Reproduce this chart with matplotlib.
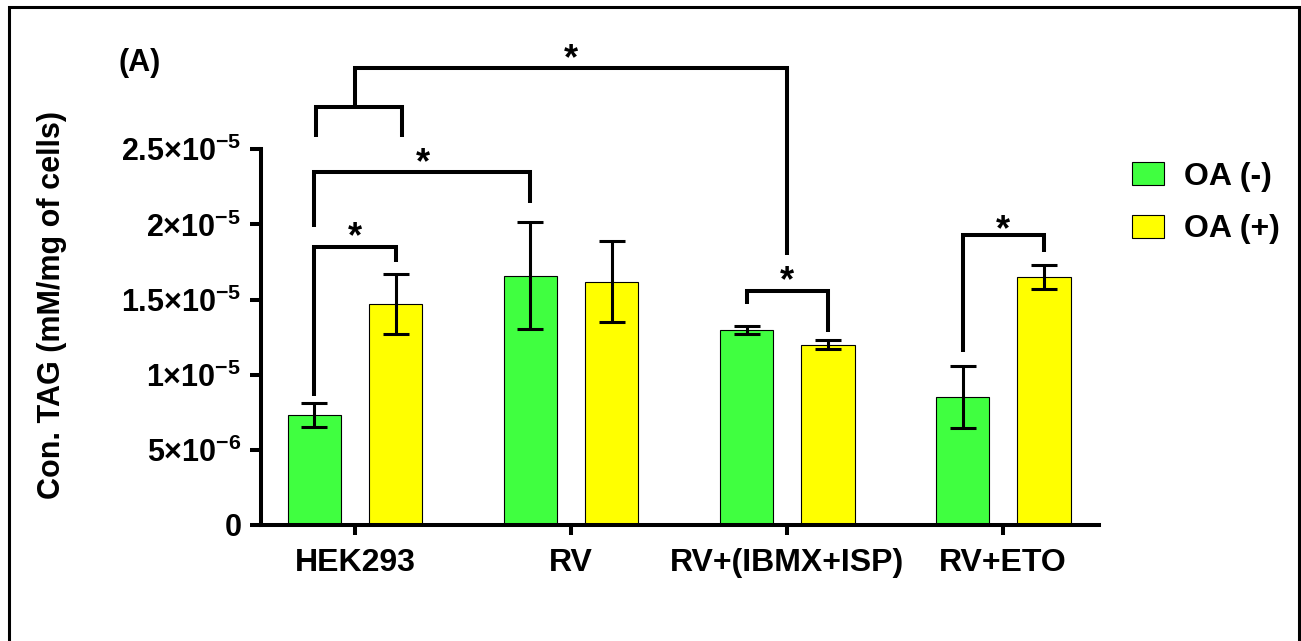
import matplotlib
matplotlib.use("Agg")
import matplotlib.pyplot as plt
from matplotlib.patches import Rectangle
import numpy as np

plt.rcParams['font.family'] = ['Liberation Sans', 'DejaVu Sans']
plt.rcParams['font.weight'] = 'bold'
plt.rcParams['mathtext.fontset'] = 'custom'
plt.rcParams['mathtext.rm'] = 'Liberation Sans:bold'
plt.rcParams['mathtext.bf'] = 'Liberation Sans:bold'
plt.rcParams['mathtext.default'] = 'bf'

# data (mM/mg of cells)
groups = ['HEK293', 'RV', 'RV+(IBMX+ISP)', 'RV+ETO']
oa_neg = [7.3e-6, 16.6e-6, 12.95e-6, 8.5e-6]
oa_neg_err = [0.8e-6, 3.55e-6, 0.27e-6, 2.07e-6]
oa_pos = [14.7e-6, 16.2e-6, 12.0e-6, 16.5e-6]
oa_pos_err = [2.0e-6, 2.72e-6, 0.31e-6, 0.81e-6]

ytick_vals = [0, 5e-6, 1e-5, 1.5e-5, 2e-5, 2.5e-5]
ytick_labels = ['0', '5×10$^{-6}$', '1×10$^{-5}$', '1.5×10$^{-5}$',
                '2×10$^{-5}$', '2.5×10$^{-5}$']

green = '#40ff40'
yellow = '#ffff00'

fig = plt.figure(figsize=(13.01, 6.41), dpi=100)
ax = fig.add_axes([0.2004, 0.181, 0.6444, 0.5861])

x = np.arange(len(groups))
off = 0.188
w = 0.248
err_kw = dict(ecolor='black', elinewidth=2.2, capsize=9.5, capthick=2.2)
ax.bar(x - off, oa_neg, w, yerr=oa_neg_err, color=green, edgecolor='black',
       linewidth=0.8, error_kw=err_kw, label='OA (-)', zorder=2)
ax.bar(x + off, oa_pos, w, yerr=oa_pos_err, color=yellow, edgecolor='black',
       linewidth=0.8, error_kw=err_kw, label='OA (+)', zorder=2)

ax.set_xlim(-0.4366, 3.444)
ax.set_ylim(0, 2.5e-5)
ax.set_xticks(x)
ax.set_xticklabels(groups, fontsize=23, fontweight='bold')
ax.set_yticks(ytick_vals)
ax.set_yticklabels(ytick_labels, fontsize=22, fontweight='bold')
ax.tick_params(axis='y', length=8, width=2.9, pad=6)
ax.tick_params(axis='x', length=7.5, width=2.9, pad=9)
for s in ['top', 'right']:
    ax.spines[s].set_visible(False)
for s in ['left', 'bottom']:
    ax.spines[s].set_linewidth(2.9)

# significance brackets (x in group units, y in units of 1e-6)
brackets = [
    [(-off, 8.58), (-off, 18.52), (off, 18.52), (off, 17.52)],
    [(-off, 19.85), (-off, 23.51), (1 - off, 23.51), (1 - off, 21.40)],
    [(-0.18, 25.84), (-0.18, 27.79), (0.216, 27.79), (0.216, 25.84)],
    [(0, 27.79), (0, 30.39), (2, 30.39), (2, 17.96)],
    [(2 - off, 14.70), (2 - off, 15.59), (2 + off, 15.59), (2 + off, 12.86)],
    [(3 - off, 11.53), (3 - off, 19.29), (3 + off, 19.29), (3 + off, 18.18)],
]
stars = [(0, 19.85), (0.312, 24.8), (1.0, 31.72), (2.0, 16.92), (3.0, 20.35)]

for br in brackets:
    bx = [p[0] for p in br]
    by = [p[1] * 1e-6 for p in br]
    ax.plot(bx, by, color='black', lw=2.9, clip_on=False,
            solid_joinstyle='miter', solid_capstyle='butt', zorder=3)
star_fs = 26
for sx, sy in stars:
    ax.annotate('*', xy=(sx, sy * 1e-6), xytext=(0, -0.58 * star_fs),
                textcoords='offset points', ha='center', va='baseline',
                fontsize=star_fs, fontweight='bold', annotation_clip=False)

fig.text(52 / 1301, 1 - 305 / 641, 'Con. TAG (mM/mg of cells)', rotation=90,
         ha='center', va='center', fontsize=22, fontweight='bold')
fig.text(118 / 1301, 1 - 63 / 641, '(A)', ha='left', va='center',
         fontsize=22, fontweight='bold')

fig.legend(loc='upper left', bbox_to_anchor=(1132 / 1301, 1 - 162 / 641),
           frameon=False, borderpad=0, borderaxespad=0, handlelength=1.0,
           handleheight=0.72, handletextpad=0.63, labelspacing=0.7,
           prop={'weight': 'bold', 'size': 23})

fig.patches.append(Rectangle((9 / 1301, -0.05), 1290 / 1301, 1 - 7 / 641 + 0.05,
                             transform=fig.transFigure, fill=False,
                             edgecolor='black', linewidth=2.2))

fig.savefig('out.png', dpi=100)
